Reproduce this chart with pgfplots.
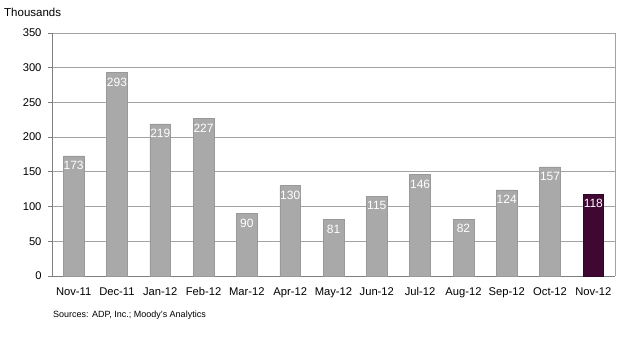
\documentclass[border=0pt]{standalone}
\usepackage{fontspec}
\setmainfont{Liberation Sans}
\usepackage{pgfplots}
\pgfplotsset{compat=1.18}
\definecolor{bargray}{HTML}{A9A9A9}
\definecolor{baredge}{HTML}{999999}
\definecolor{barpurple}{HTML}{3E0832}
\definecolor{gridgray}{HTML}{A3A3A3}
\definecolor{axisgray}{HTML}{7F7F7F}
\begin{document}
\begin{tikzpicture}
\useasboundingbox (0,0) rectangle (630bp,361bp);
\begin{axis}[
  at={(52bp,85bp)}, anchor=south west,
  scale only axis, width=563bp, height=243bp,
  xmin=-0.5, xmax=12.5, ymin=0, ymax=350,
  ytick={0,50,...,350},
  xtick={0,...,12},
  xticklabels={Nov-11,Dec-11,Jan-12,Feb-12,Mar-12,Apr-12,May-12,Jun-12,Jul-12,Aug-12,Sep-12,Oct-12,Nov-12},
  major x tick style={draw=none},
  extra x ticks={-0.5,0.5,...,12.5},
  extra x tick labels={},
  extra x tick style={major tick length=4bp, tick align=outside, tick style={draw=axisgray, line width=0.8bp}, grid=none},
  ymajorgrids, grid style={draw=gridgray, line width=0.9bp},
  major tick length=4bp, tick align=outside,
  ytick style={draw=axisgray, line width=0.8bp},
  axis line style={draw=gridgray, line width=0.9bp},
  separate axis lines,
  y axis line style={draw=axisgray},
  x axis line style={draw=axisgray},
  axis x line*=bottom, axis y line*=left,
  ticklabel style={font=\fontsize{11.2bp}{13bp}\selectfont, text=black},
  yticklabel style={xshift=-3bp},
  xticklabel style={yshift=-4bp},
  /pgf/number format/assume math mode=true,
  ybar, bar width=0.48, bar shift=0pt,
  nodes near coords,
  every node near coord/.append style={font=\fontsize{12bp}{14bp}\selectfont, text=white, anchor=north, inner sep=0pt, yshift=-5bp},
  clip=false,
]
\addplot[fill=bargray, draw=baredge, line width=0.6bp] coordinates {
(0,173) (1,293) (2,219) (3,227) (4,90) (5,130) (6,81) (7,115) (8,146) (9,82) (10,124) (11,157)
};
\addplot[fill=barpurple, draw=barpurple!80!black, line width=0.6bp] coordinates {(12,118)};
\draw[gridgray, line width=0.9bp] (axis cs:12.5,0) -- (axis cs:12.5,350);
\end{axis}
\node[anchor=west, inner sep=0pt, font=\fontsize{11.5bp}{13bp}\selectfont] at (4bp,349bp) {Thousands};
\node[anchor=west, inner sep=0pt, font=\fontsize{9bp}{11bp}\selectfont] at (53bp,46bp) {Sources: ADP, Inc.; Moody's Analytics};
\end{tikzpicture}
\end{document}
